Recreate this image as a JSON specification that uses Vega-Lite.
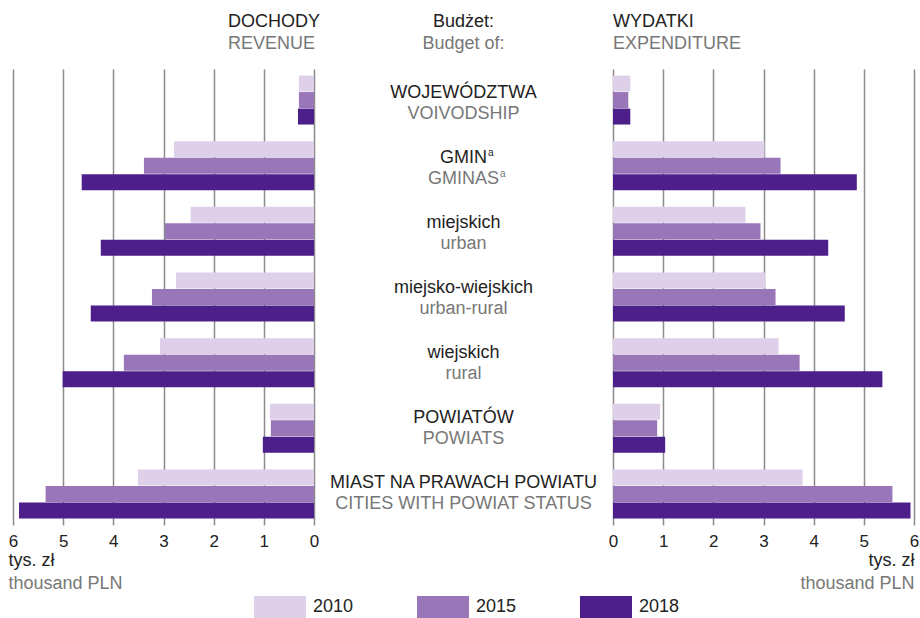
{
  "$schema": "https://vega.github.io/schema/vega-lite/v6.json",
  "padding": {"left": 8, "top": 13, "right": 0, "bottom": 0},
  "bounds": "flush",
  "spacing": 0,
  "config": {
    "view": {"stroke": null},
    "font": "Liberation Sans",
    "title": {"fontSize": 18, "subtitleFontSize": 18, "fontWeight": "normal", "color": "#222222", "subtitleColor": "#777777", "subtitlePadding": 4, "offset": 16, "frame": "group"}
  },
  "datasets": {
    "bars": [
      {"group": "WOJEWÓDZTWA", "year": "2010", "side": "rev", "v": 0.30},
      {"group": "WOJEWÓDZTWA", "year": "2015", "side": "rev", "v": 0.30},
      {"group": "WOJEWÓDZTWA", "year": "2018", "side": "rev", "v": 0.32},
      {"group": "GMIN", "year": "2010", "side": "rev", "v": 2.79},
      {"group": "GMIN", "year": "2015", "side": "rev", "v": 3.39},
      {"group": "GMIN", "year": "2018", "side": "rev", "v": 4.63},
      {"group": "miejskich", "year": "2010", "side": "rev", "v": 2.46},
      {"group": "miejskich", "year": "2015", "side": "rev", "v": 2.97},
      {"group": "miejskich", "year": "2018", "side": "rev", "v": 4.25},
      {"group": "miejsko-wiejskich", "year": "2010", "side": "rev", "v": 2.75},
      {"group": "miejsko-wiejskich", "year": "2015", "side": "rev", "v": 3.23},
      {"group": "miejsko-wiejskich", "year": "2018", "side": "rev", "v": 4.45},
      {"group": "wiejskich", "year": "2010", "side": "rev", "v": 3.07},
      {"group": "wiejskich", "year": "2015", "side": "rev", "v": 3.79},
      {"group": "wiejskich", "year": "2018", "side": "rev", "v": 5.01},
      {"group": "POWIATÓW", "year": "2010", "side": "rev", "v": 0.88},
      {"group": "POWIATÓW", "year": "2015", "side": "rev", "v": 0.86},
      {"group": "POWIATÓW", "year": "2018", "side": "rev", "v": 1.02},
      {"group": "MIAST NA PRAWACH POWIATU", "year": "2010", "side": "rev", "v": 3.51},
      {"group": "MIAST NA PRAWACH POWIATU", "year": "2015", "side": "rev", "v": 5.35},
      {"group": "MIAST NA PRAWACH POWIATU", "year": "2018", "side": "rev", "v": 5.88},
      {"group": "WOJEWÓDZTWA", "year": "2010", "side": "exp", "v": 0.345},
      {"group": "WOJEWÓDZTWA", "year": "2015", "side": "exp", "v": 0.305},
      {"group": "WOJEWÓDZTWA", "year": "2018", "side": "exp", "v": 0.345},
      {"group": "GMIN", "year": "2010", "side": "exp", "v": 3.02},
      {"group": "GMIN", "year": "2015", "side": "exp", "v": 3.34},
      {"group": "GMIN", "year": "2018", "side": "exp", "v": 4.86},
      {"group": "miejskich", "year": "2010", "side": "exp", "v": 2.64},
      {"group": "miejskich", "year": "2015", "side": "exp", "v": 2.94},
      {"group": "miejskich", "year": "2018", "side": "exp", "v": 4.29},
      {"group": "miejsko-wiejskich", "year": "2010", "side": "exp", "v": 3.04},
      {"group": "miejsko-wiejskich", "year": "2015", "side": "exp", "v": 3.24},
      {"group": "miejsko-wiejskich", "year": "2018", "side": "exp", "v": 4.62},
      {"group": "wiejskich", "year": "2010", "side": "exp", "v": 3.30},
      {"group": "wiejskich", "year": "2015", "side": "exp", "v": 3.72},
      {"group": "wiejskich", "year": "2018", "side": "exp", "v": 5.37},
      {"group": "POWIATÓW", "year": "2010", "side": "exp", "v": 0.94},
      {"group": "POWIATÓW", "year": "2015", "side": "exp", "v": 0.88},
      {"group": "POWIATÓW", "year": "2018", "side": "exp", "v": 1.04},
      {"group": "MIAST NA PRAWACH POWIATU", "year": "2010", "side": "exp", "v": 3.78},
      {"group": "MIAST NA PRAWACH POWIATU", "year": "2015", "side": "exp", "v": 5.57},
      {"group": "MIAST NA PRAWACH POWIATU", "year": "2018", "side": "exp", "v": 5.93}
    ],
    "labels": [
      {"group": "WOJEWÓDZTWA", "pl": "WOJEWÓDZTWA", "en": "VOIVODSHIP", "sup": ""},
      {"group": "GMIN", "pl": "GMIN", "en": "GMINAS", "sup": "a"},
      {"group": "miejskich", "pl": "miejskich", "en": "urban", "sup": ""},
      {"group": "miejsko-wiejskich", "pl": "miejsko-wiejskich", "en": "urban-rural", "sup": ""},
      {"group": "wiejskich", "pl": "wiejskich", "en": "rural", "sup": ""},
      {"group": "POWIATÓW", "pl": "POWIATÓW", "en": "POWIATS", "sup": ""},
      {"group": "MIAST NA PRAWACH POWIATU", "pl": "MIAST NA PRAWACH POWIATU", "en": "CITIES WITH POWIAT STATUS", "sup": ""}
    ]
  },
  "resolve": {"scale": {"color": "shared"}, "legend": {"color": "shared"}},
  "hconcat": [
    {
      "width": 301,
      "height": 456,
      "data": {"name": "bars"},
      "transform": [{"filter": "datum.side == 'rev'"}],
      "title": {"text": "DOCHODY", "subtitle": "REVENUE", "anchor": "start", "dx": 215},
      "layer": [
        {
          "mark": {"type": "bar"},
          "encoding": {
            "x": {"field": "v", "type": "quantitative", "scale": {"domain": [0, 6], "reverse": true},
              "axis": {"values": [0, 1, 2, 3, 4, 5, 6], "format": "d", "domain": false, "ticks": false, "grid": true, "gridColor": "#8c8c8c", "gridWidth": 1.5, "labelFontSize": 17, "labelColor": "#222222", "labelPadding": 8, "labelFlush": false, "title": "tys. zł", "titleFontSize": 18, "titleFontWeight": "normal", "titleColor": "#222222", "titleAnchor": "end", "titleAlign": "left", "titleX": -5, "titlePadding": 2}},
            "y": {"field": "group", "type": "nominal", "sort": ["WOJEWÓDZTWA", "GMIN", "miejskich", "miejsko-wiejskich", "wiejskich", "POWIATÓW", "MIAST NA PRAWACH POWIATU"], "scale": {"paddingInner": 0.254, "paddingOuter": 0.1}, "axis": null},
            "yOffset": {"field": "year", "type": "nominal", "scale": {"paddingInner": 0.03}},
            "color": {"field": "year", "type": "nominal", "scale": {"domain": ["2010", "2015", "2018"], "range": ["#ddd0e8", "#9876b8", "#4c1f8b"]},
              "legend": {"orient": "none", "legendX": 241, "legendY": 512, "direction": "horizontal", "title": null, "symbolType": "M-1,-0.42H1V0.42H-1Z", "symbolSize": 2704, "symbolStrokeWidth": 0, "symbolOpacity": 1, "labelFontSize": 18, "labelColor": "#222222", "labelOffset": 7, "columnPadding": 63, "padding": 0}}
          }
        },
        {
          "mark": {"type": "bar", "opacity": 0},
          "encoding": {
            "x": {"field": "v", "type": "quantitative",
              "axis": {"orient": "bottom", "labels": false, "ticks": false, "domain": false, "grid": false, "title": "thousand PLN", "titleFontSize": 18, "titleFontWeight": "normal", "titleColor": "#777777", "titleAnchor": "end", "titleAlign": "left", "titleX": -5, "titlePadding": 49}},
            "y": {"field": "group", "type": "nominal", "sort": ["WOJEWÓDZTWA", "GMIN", "miejskich", "miejsko-wiejskich", "wiejskich", "POWIATÓW", "MIAST NA PRAWACH POWIATU"]},
            "yOffset": {"field": "year", "type": "nominal"}
          }
        }
      ],
      "resolve": {"axis": {"x": "independent"}}
    },
    {
      "width": 299,
      "height": 456,
      "data": {"name": "labels"},
      "title": {"text": "Budżet:", "subtitle": "Budget of:", "anchor": "middle"},
      "encoding": {
        "y": {"field": "group", "type": "nominal", "sort": ["WOJEWÓDZTWA", "GMIN", "miejskich", "miejsko-wiejskich", "wiejskich", "POWIATÓW", "MIAST NA PRAWACH POWIATU"], "scale": {"paddingInner": 0.254, "paddingOuter": 0.1}, "axis": null}
      },
      "layer": [
        {"mark": {"type": "text", "fontSize": 18, "color": "#222222", "baseline": "alphabetic", "align": "center", "dy": -4}, "encoding": {"text": {"field": "pl"}}},
        {"mark": {"type": "text", "fontSize": 18, "color": "#777777", "baseline": "alphabetic", "align": "center", "dy": 17}, "encoding": {"text": {"field": "en"}}},
        {"transform": [{"filter": "datum.sup != ''"}], "mark": {"type": "text", "fontSize": 10, "color": "#222222", "baseline": "alphabetic", "align": "left", "dx": 24.5, "dy": -11}, "encoding": {"text": {"field": "sup"}}},
        {"transform": [{"filter": "datum.sup != ''"}], "mark": {"type": "text", "fontSize": 10, "color": "#777777", "baseline": "alphabetic", "align": "left", "dx": 36.5, "dy": 10}, "encoding": {"text": {"field": "sup"}}}
      ]
    },
    {
      "width": 301,
      "height": 456,
      "data": {"name": "bars"},
      "transform": [{"filter": "datum.side == 'exp'"}],
      "title": {"text": "WYDATKI", "subtitle": "EXPENDITURE", "anchor": "start"},
      "layer": [
        {
          "mark": {"type": "bar"},
          "encoding": {
            "x": {"field": "v", "type": "quantitative", "scale": {"domain": [0, 6]},
              "axis": {"values": [0, 1, 2, 3, 4, 5, 6], "format": "d", "domain": false, "ticks": false, "grid": true, "gridColor": "#8c8c8c", "gridWidth": 1.5, "labelFontSize": 17, "labelColor": "#222222", "labelPadding": 8, "labelFlush": false, "title": "tys. zł", "titleFontSize": 18, "titleFontWeight": "normal", "titleColor": "#222222", "titleAnchor": "end", "titleAlign": "right", "titlePadding": 2}},
            "y": {"field": "group", "type": "nominal", "sort": ["WOJEWÓDZTWA", "GMIN", "miejskich", "miejsko-wiejskich", "wiejskich", "POWIATÓW", "MIAST NA PRAWACH POWIATU"], "scale": {"paddingInner": 0.254, "paddingOuter": 0.1}, "axis": null},
            "yOffset": {"field": "year", "type": "nominal", "scale": {"paddingInner": 0.03}},
            "color": {"field": "year", "type": "nominal", "scale": {"domain": ["2010", "2015", "2018"], "range": ["#ddd0e8", "#9876b8", "#4c1f8b"]},
              "legend": {"orient": "none", "legendX": 241, "legendY": 512, "direction": "horizontal", "title": null, "symbolType": "M-1,-0.42H1V0.42H-1Z", "symbolSize": 2704, "symbolStrokeWidth": 0, "symbolOpacity": 1, "labelFontSize": 18, "labelColor": "#222222", "labelOffset": 7, "columnPadding": 63, "padding": 0}}
          }
        },
        {
          "mark": {"type": "bar", "opacity": 0},
          "encoding": {
            "x": {"field": "v", "type": "quantitative",
              "axis": {"orient": "bottom", "labels": false, "ticks": false, "domain": false, "grid": false, "title": "thousand PLN", "titleFontSize": 18, "titleFontWeight": "normal", "titleColor": "#777777", "titleAnchor": "end", "titleAlign": "right", "titlePadding": 49}},
            "y": {"field": "group", "type": "nominal", "sort": ["WOJEWÓDZTWA", "GMIN", "miejskich", "miejsko-wiejskich", "wiejskich", "POWIATÓW", "MIAST NA PRAWACH POWIATU"]},
            "yOffset": {"field": "year", "type": "nominal"}
          }
        }
      ],
      "resolve": {"axis": {"x": "independent"}}
    }
  ]
}
